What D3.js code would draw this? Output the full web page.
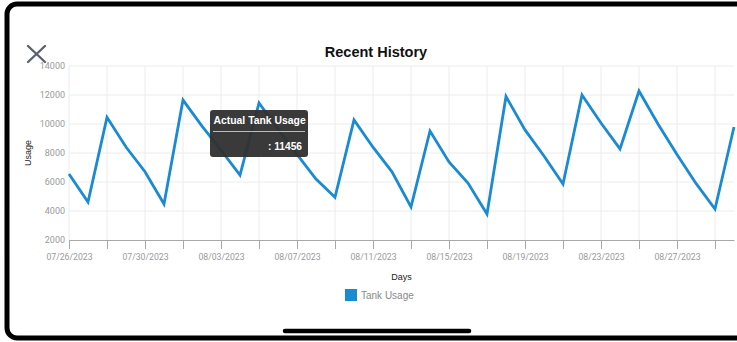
<!DOCTYPE html>
<html>
<head>
<meta charset="utf-8">
<script src="https://cdn.jsdelivr.net/npm/d3@7"></script>
<style>
  body { margin: 0; background: #fff; }
  svg { display: block; font-family: "Liberation Sans", Arial, sans-serif; }
</style>
</head>
<body>
<div id="chart"></div>
<script>
// data, one value per day
var days = ["07/26/2023","07/27/2023","07/28/2023","07/29/2023","07/30/2023","07/31/2023",
  "08/01/2023","08/02/2023","08/03/2023","08/04/2023","08/05/2023","08/06/2023",
  "08/07/2023","08/08/2023","08/09/2023","08/10/2023","08/11/2023","08/12/2023",
  "08/13/2023","08/14/2023","08/15/2023","08/16/2023","08/17/2023","08/18/2023",
  "08/19/2023","08/20/2023","08/21/2023","08/22/2023","08/23/2023","08/24/2023",
  "08/25/2023","08/26/2023","08/27/2023","08/28/2023","08/29/2023","08/30/2023"];
var usage = [6550, 4620, 10460, 8410, 6710, 4480,
  11650, 9850, 8200, 6480, 11456, 9640,
  7900, 6200, 4950, 10280, 8400, 6700,
  4280, 9520, 7380, 5930, 3790, 11900,
  9590, 7790, 5860, 12000, 10070, 8280,
  12280, 10000, 7900, 5900, 4140, 9790];
var yTicks = [2000, 4000, 6000, 8000, 10000, 12000, 14000];
var seriesName = "Tank Usage";
var tipTitle = "Actual Tank Usage";
var tipValue = 11456;

var svgWidth = 737;
var svgHeight = 342;
var margin = { top: 66, left: 69, right: 3, bottom: 102 };
var width = svgWidth - margin.left - margin.right;
var height = svgHeight - margin.top - margin.bottom;
var blue = "#1a8ad2";

var parse = d3.timeParse("%m/%d/%Y");
var data = days.map(function (d, i) { return { date: parse(d), value: usage[i] }; });

var svg = d3.select("#chart").append("svg")
    .attr("width", svgWidth)
    .attr("height", svgHeight);

// phone frame
svg.append("rect")
    .attr("x", 7).attr("y", 4)
    .attr("width", 760).attr("height", 334)
    .attr("rx", 10)
    .attr("fill", "#fff")
    .attr("stroke", "#000")
    .attr("stroke-width", 5);

// close icon
svg.append("path")
    .attr("d", "M28,46 L45,62 M45,46 L28,62")
    .attr("stroke", "#5b6170")
    .attr("stroke-width", 2.4)
    .attr("stroke-linecap", "round");

svg.append("text")
    .attr("x", 376).attr("y", 57)
    .attr("text-anchor", "middle")
    .attr("font-size", 14.5)
    .attr("font-weight", "bold")
    .attr("fill", "#111")
    .text("Recent History");

var chartGroup = svg.append("g")
    .attr("transform", `translate(${margin.left}, ${margin.top})`);

var x = d3.scaleTime()
    .domain([parse("07/26/2023"), parse("08/30/2023")])
    .range([0, width]);

var y = d3.scaleLinear()
    .domain([2000, 14000])
    .range([height, 0]);

var xTickDates = d3.timeDay.range(parse("07/26/2023"), parse("08/31/2023"), 2);
var fmt = d3.timeFormat("%m/%d/%Y");

// grid
chartGroup.append("g").selectAll("line")
    .data(yTicks.slice(1))
    .enter().append("line")
    .attr("x1", 0).attr("x2", width)
    .attr("y1", d => y(d)).attr("y2", d => y(d))
    .attr("stroke", "#ececec");

chartGroup.append("g").selectAll("line")
    .data(xTickDates)
    .enter().append("line")
    .attr("x1", d => x(d)).attr("x2", d => x(d))
    .attr("y1", 0).attr("y2", height)
    .attr("stroke", "#ececec");

// y axis labels
var yAxis = d3.axisLeft(y).tickValues(yTicks).tickSize(0).tickPadding(4)
    .tickFormat(d3.format("d"));
var yg = chartGroup.append("g").call(yAxis);
yg.select(".domain").remove();
yg.selectAll("text")
    .attr("fill", "#9a9a9a")
    .attr("font-size", 9)
    .attr("font-family", "Roboto, sans-serif");

// x axis
var xAxis = d3.axisBottom(x)
    .tickValues(xTickDates)
    .tickSize(9)
    .tickSizeOuter(0)
    .tickPadding(5)
    .tickFormat((d, i) => i % 2 === 0 ? fmt(d) : "");
var xg = chartGroup.append("g")
    .attr("transform", `translate(0, ${height})`)
    .call(xAxis);
xg.select(".domain").attr("stroke", "#a8a8a8");
xg.selectAll(".tick line").attr("stroke", "#a8a8a8");
xg.selectAll("text")
    .attr("fill", "#9a9a9a")
    .attr("font-size", 8.7)
    .attr("font-family", "Roboto, sans-serif");

// line
var line = d3.line()
    .x(d => x(d.date))
    .y(d => y(d.value));

chartGroup.append("path")
    .datum(data)
    .attr("d", line)
    .attr("fill", "none")
    .attr("stroke", blue)
    .attr("stroke-width", 2.8)
    .attr("stroke-linejoin", "miter");

// axis titles
chartGroup.append("text")
    .attr("transform", "rotate(-90)")
    .attr("x", -height / 2)
    .attr("y", -38)
    .attr("text-anchor", "middle")
    .attr("font-size", 9)
    .attr("fill", "#222")
    .text("Usage");

chartGroup.append("text")
    .attr("x", width / 2)
    .attr("y", height + 40)
    .attr("text-anchor", "middle")
    .attr("font-size", 9)
    .attr("fill", "#222")
    .text("Days");

// legend
svg.append("rect")
    .attr("x", 345).attr("y", 289)
    .attr("width", 12).attr("height", 12)
    .attr("fill", blue);
svg.append("text")
    .attr("x", 361).attr("y", 299)
    .attr("font-size", 10)
    .attr("fill", "#8a8a8a")
    .text(seriesName);

// tooltip
var tip = svg.append("g").attr("transform", "translate(210, 110)");
tip.append("rect")
    .attr("width", 98).attr("height", 47)
    .attr("rx", 3)
    .attr("fill", "#2f2f2f")
    .attr("fill-opacity", 0.95);
tip.append("text")
    .attr("x", 3.5).attr("y", 13.5)
    .attr("font-size", 10.4)
    .attr("font-weight", "bold")
    .attr("fill", "#fff")
    .text(tipTitle);
tip.append("line")
    .attr("x1", 3).attr("x2", 95)
    .attr("y1", 21.5).attr("y2", 21.5)
    .attr("stroke", "#ddd")
    .attr("stroke-width", 0.8);
tip.append("text")
    .attr("x", 92).attr("y", 40)
    .attr("text-anchor", "end")
    .attr("font-size", 10.2)
    .attr("font-weight", "bold")
    .attr("fill", "#fff")
    .text(":  " + tipValue);

// home indicator
svg.append("line")
    .attr("x1", 285).attr("x2", 469)
    .attr("y1", 331).attr("y2", 331)
    .attr("stroke", "#000")
    .attr("stroke-width", 4.5)
    .attr("stroke-linecap", "round");
</script>
</body>
</html>
